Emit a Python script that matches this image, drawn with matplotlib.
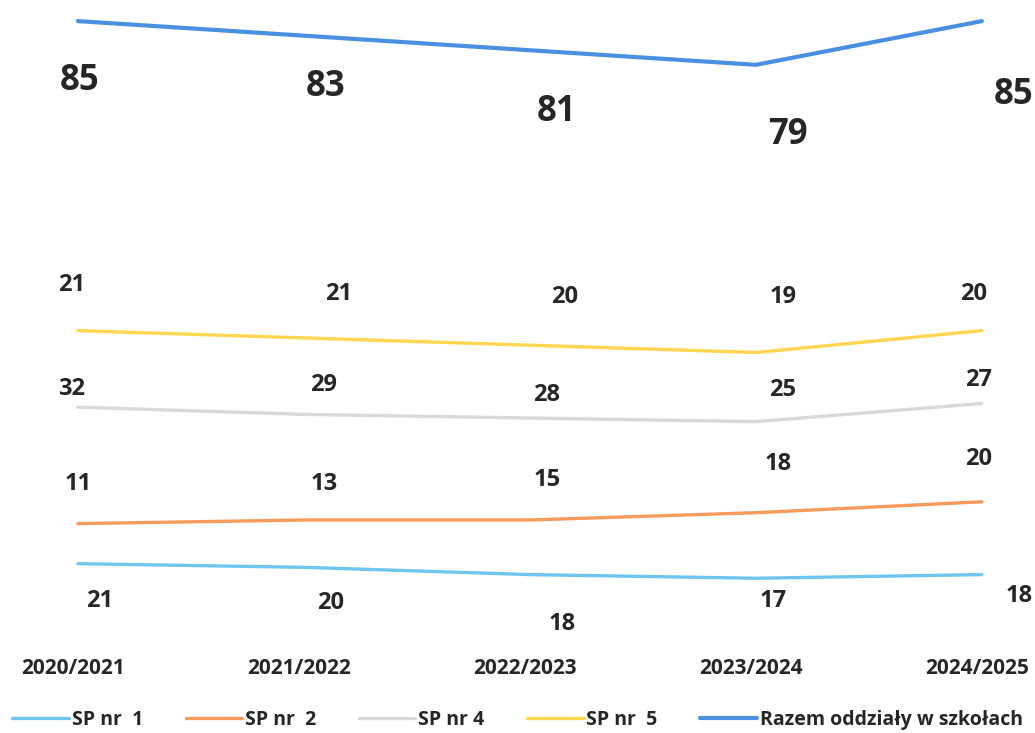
import matplotlib
matplotlib.use("Agg")
import matplotlib.pyplot as plt
import numpy as np

plt.rcParams['font.family'] = ['Open Sans', 'DejaVu Sans']

# dane
lata = ['2020/2021', '2021/2022', '2022/2023', '2023/2024', '2024/2025']
sp1 = [21, 20, 18, 17, 18]
sp2 = [11, 13, 15, 18, 20]
sp4 = [32, 29, 28, 25, 27]
sp5 = [21, 21, 20, 19, 20]
razem = [85, 83, 81, 79, 85]

nazwy = ['SP nr  1', 'SP nr  2', 'SP nr 4', 'SP nr  5', 'Razem oddziały w szkołach']
kolory = ['#6ec6f0', '#f79a5a', '#d9d9d9', '#ffd64f', '#4a90e2']
grubosci = [2.4, 2.4, 2.4, 2.4, 3.0]

# przesunięcia etykiet (piksele) – wykres skumulowany z Excela
przes = [
    [(22, -37), (27, -36), (32, -49), (17, -23), (37, -21)],
    [(0, 40), (20, 36), (17, 40), (22, 49), (-3, 43)],
    [(-6, 18), (20, 29), (17, 23), (27, 32), (-3, 23)],
    [(-6, 46), (35, 44), (35, 48), (27, 55), (-8, 37)],
    [(2, -60), (22, -51), (27, -62), (32, -70), (32, -74)],
]
rozm = [17, 17, 17, 17, 25]

serie = [sp1, sp2, sp4, sp5, razem]
x = np.arange(len(lata))

fig = plt.figure(figsize=(10.35, 7.33), dpi=100)
ax = fig.add_axes([0, 0, 1, 1])
ax.set_xlim(-0.345, 4.235)
ax.set_ylim(-25.5, 175.8)
ax.axis('off')

skum = np.zeros(len(lata))
uchwyty = []
for s, nazwa, kol, lw, pr, fs in zip(serie, nazwy, kolory, grubosci, przes, rozm):
    skum = skum + np.array(s)
    ln, = ax.plot(x, skum, color=kol, lw=lw, solid_capstyle='round', label=nazwa)
    uchwyty.append(ln)
    for xi, yi, v, (dx, dy) in zip(x, skum, s, pr):
        ax.annotate(str(v), (xi, yi), xytext=(dx, dy), textcoords='offset pixels',
                    ha='center', va='center', fontsize=fs, fontweight='bold',
                    color='#262626')

for xi, rok in zip(x, lata):
    ax.text(xi - 0.02, -7.9, rok, ha='center', va='center', fontsize=15,
            fontweight='bold', color='#262626')

leg = fig.legend(handles=uchwyty, loc='center', bbox_to_anchor=(0.5, 0.018), ncol=5,
                 frameon=False, handlelength=2.9, handletextpad=0.15,
                 columnspacing=2.2, prop={'weight': 'bold', 'size': 14})
for t in leg.get_texts():
    t.set_color('#262626')

fig.savefig('out.png', dpi=100)
